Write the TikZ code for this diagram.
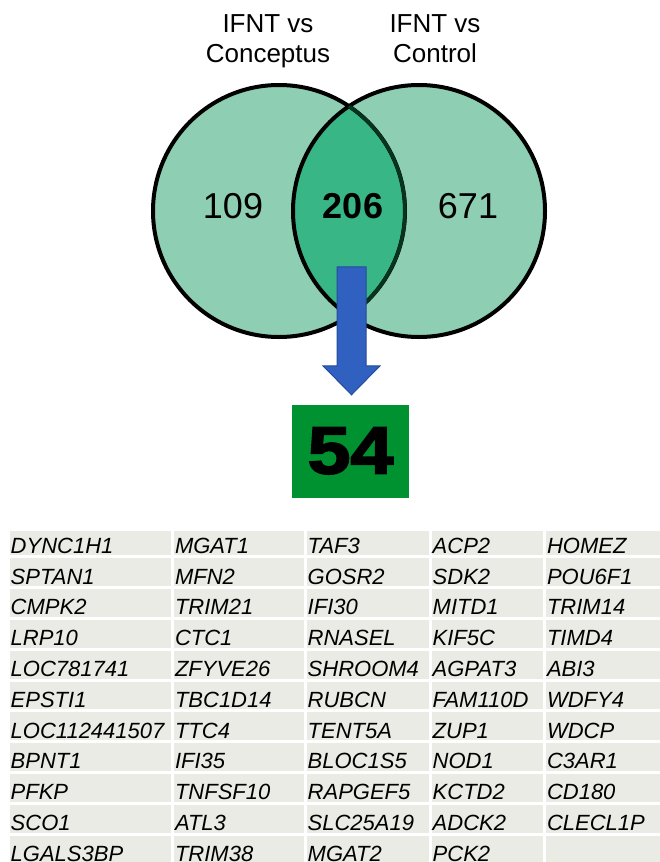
\documentclass[tikz,border=0pt]{standalone}
\usepackage{fontspec}
\setmainfont{Liberation Sans}
\newfontfamily\heavyfont{Liberation Sans}[BoldFeatures={FakeBold=2.5}]
\usepackage{graphicx}
\usepackage{tikz}
\usetikzlibrary{calc}

\definecolor{VennLight}{RGB}{142,207,180}
\definecolor{VennMid}{RGB}{56,182,134}
\definecolor{VennEdge}{RGB}{6,52,28}
\definecolor{ArrowBlue}{RGB}{48,96,192}
\definecolor{ArrowEdge}{RGB}{36,76,156}
\definecolor{BoxGreen}{RGB}{0,146,48}
\definecolor{CellGray}{RGB}{233,235,228}

\begin{document}
\begin{tikzpicture}[x=1pt,y=-1pt,
  setlabel/.style={align=center,inner sep=0pt,anchor=north,font=\fontsize{26}{30}\selectfont},
  count/.style={inner sep=0pt,font=\fontsize{36}{40}\selectfont},
  gene/.style={anchor=base west,inner sep=0pt,font=\fontsize{22}{26}\selectfont\itshape},
  blockarrow/.style={fill=ArrowBlue,draw=ArrowEdge,line width=1pt,line join=miter}]
\useasboundingbox (0,0) rectangle (660,862);
\clip (0,0) rectangle (660,862);

% the two sets
\coordinate (conceptus) at (279,211);
\coordinate (control) at (419,211);
\fill[VennLight] (conceptus) circle[radius=126pt];
\fill[VennLight] (control) circle[radius=126pt];
\begin{scope}
  \clip (conceptus) circle[radius=126pt];
  \fill[VennMid] (control) circle[radius=126pt];
\end{scope}
\draw[black, line width=4pt] (conceptus) circle[radius=126pt];
\draw[black, line width=4pt] (control) circle[radius=126pt];
\begin{scope}
  \clip (control) circle[radius=126pt];
  \draw[VennEdge, line width=3.5pt] (conceptus) circle[radius=126pt];
\end{scope}

\node[setlabel] (label-conceptus) at (268,14) {IFNT vs\\Conceptus};
\node[setlabel] (label-control) at (435,14) {IFNT vs\\Control};

\node[count] (only-conceptus) at (233,206) {109};
\node[count] (shared) at (353,206) {\bfseries 206};
\node[count] (only-control) at (468,206) {671};

% common genes
\node[fill=BoxGreen, minimum width=117pt, minimum height=93pt, inner sep=0pt]
  (common) at (350.5,451.5)
  {\raisebox{2pt}{\heavyfont\bfseries\fontsize{67}{67}\selectfont\scalebox{1.15}[1]{54}}};

\coordinate (tip) at ($(common.north)+(1,-10)$);
\draw[blockarrow] (tip) -- ++(28.5,-29) -- ++(-14,0) -- ++(0,-99)
  -- ++(-29,0) -- ++(0,99) -- ++(-14,0) -- cycle;

% table
\foreach \r in {0,...,10}{
  \pgfmathsetmacro\ytop{\r==0 ? 530.5 : 526+30.8*\r+1.5}
  \foreach \xa/\xb in {8/172.3, 172.3/305, 305/430, 430/544.3, 544.3/663}{
    \fill[CellGray] (\xa+1.5, \ytop) rectangle (\xb-1.5, {526+30.8*(\r+1)-1.5});
  }
}

\foreach \genes [count=\r from 0] in {
  {DYNC1H1,MGAT1,TAF3,ACP2,HOMEZ},
  {SPTAN1,MFN2,GOSR2,SDK2,POU6F1},
  {CMPK2,TRIM21,IFI30,MITD1,TRIM14},
  {LRP10,CTC1,RNASEL,KIF5C,TIMD4},
  {LOC781741,ZFYVE26,SHROOM4,AGPAT3,ABI3},
  {EPSTI1,TBC1D14,RUBCN,FAM110D,WDFY4},
  {LOC112441507,TTC4,TENT5A,ZUP1,WDCP},
  {BPNT1,IFI35,BLOC1S5,NOD1,C3AR1},
  {PFKP,TNFSF10,RAPGEF5,KCTD2,CD180},
  {SCO1,ATL3,SLC25A19,ADCK2,CLECL1P},
  {LGALS3BP,TRIM38,MGAT2,PCK2}}{
  \foreach \gene [count=\c from 0] in \genes {
    \pgfmathsetmacro\gx{{10.5,174.8,307.5,432.5,546.8}[\c]}
    \node[gene] (g-\r-\c) at (\gx, {526+30.8*(\r+1)-3.5}) {\gene};
  }
}
\end{tikzpicture}
\end{document}
